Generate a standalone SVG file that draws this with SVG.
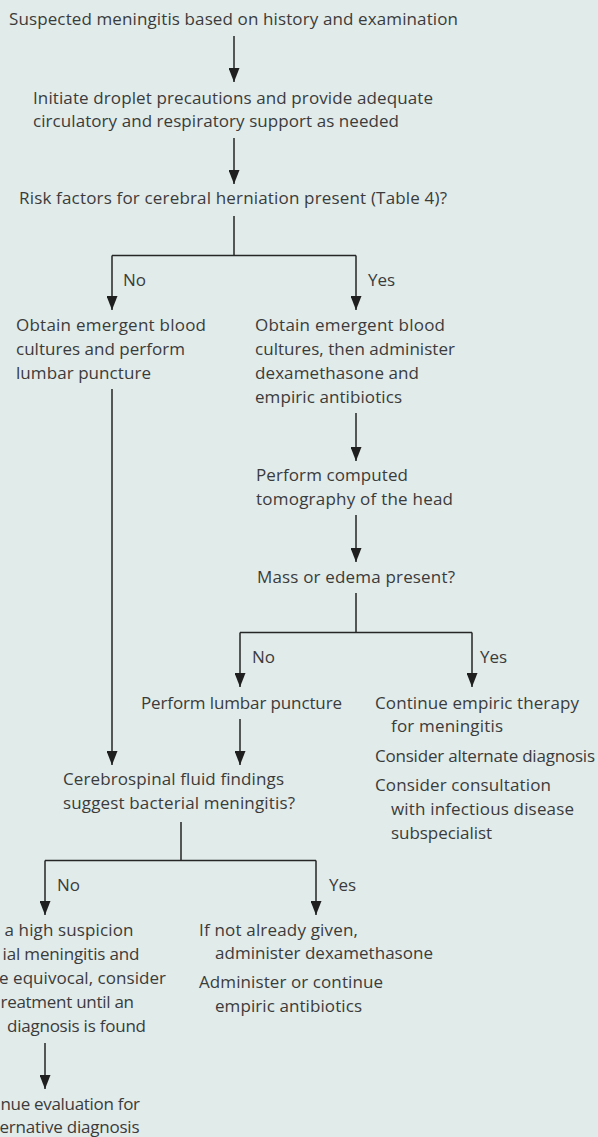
<svg xmlns="http://www.w3.org/2000/svg" width="598" height="1137" viewBox="0 0 598 1137">
  <style>
    text { font-family: "Open Sans", "Noto Sans", "Liberation Sans", sans-serif; font-size: 17px; fill: #3b3b3b; }
    .ln { stroke: #262626; stroke-width: 1.5; fill: none; }
    .ar { stroke: #262626; stroke-width: 1.5; fill: none; marker-end: url(#ah); }
  </style>
  <defs>
    <marker id="ah" viewBox="0 0 14 11" refX="14" refY="5.5" markerWidth="14" markerHeight="11" orient="auto" markerUnits="userSpaceOnUse">
      <path d="M0,0 L14,5.5 L0,11 z" fill="#1f1f1f"/>
    </marker>
  </defs>
  <rect x="0" y="0" width="598" height="1137" fill="#e1ebea"/>

  <g id="connectors">
    <line class="ar" x1="234" y1="36" x2="234" y2="82"/>
    <line class="ar" x1="234" y1="138" x2="234" y2="184"/>
    <path class="ln" d="M234,216 V255.5 M112,255.5 H356"/>
    <line class="ar" x1="112" y1="255.5" x2="112" y2="310"/>
    <line class="ar" x1="356" y1="255.5" x2="356" y2="310"/>
    <line class="ar" x1="112" y1="389" x2="112" y2="765"/>
    <line class="ar" x1="356" y1="413" x2="356" y2="461"/>
    <line class="ar" x1="356" y1="515" x2="356" y2="562"/>
    <path class="ln" d="M356,593 V632.5 M240,632.5 H472"/>
    <line class="ar" x1="240" y1="632.5" x2="240" y2="687"/>
    <line class="ar" x1="472" y1="632.5" x2="472" y2="687"/>
    <line class="ar" x1="240" y1="719" x2="240" y2="765"/>
    <path class="ln" d="M181,822 V860.5 M45,860.5 H316"/>
    <line class="ar" x1="45" y1="860.5" x2="45" y2="915"/>
    <line class="ar" x1="316" y1="860.5" x2="316" y2="915"/>
    <line class="ar" x1="45" y1="1043" x2="45" y2="1089"/>
  </g>

  <g id="labels">
    <text x="123" y="286">No</text>
    <text x="368" y="286">Yes</text>
    <text x="252" y="663">No</text>
    <text x="480" y="663">Yes</text>
    <text x="57" y="891">No</text>
    <text x="329" y="891">Yes</text>
  </g>

  <g id="n1"><text x="9" y="25" textLength="449" lengthAdjust="spacing">Suspected meningitis based on history and examination</text></g>
  <g id="n2">
    <text x="33" y="104" textLength="400" lengthAdjust="spacing">Initiate droplet precautions and provide adequate</text>
    <text x="33" y="127" textLength="366" lengthAdjust="spacing">circulatory and respiratory support as needed</text>
  </g>
  <g id="n3"><text x="19" y="204" textLength="428" lengthAdjust="spacing">Risk factors for cerebral herniation present (Table 4)?</text></g>
  <g id="n4">
    <text x="16" y="331" textLength="190" lengthAdjust="spacing">Obtain emergent blood</text>
    <text x="16" y="355" textLength="169" lengthAdjust="spacing">cultures and perform</text>
    <text x="16" y="379" textLength="135" lengthAdjust="spacing">lumbar puncture</text>
  </g>
  <g id="n5">
    <text x="255" y="331" textLength="190" lengthAdjust="spacing">Obtain emergent blood</text>
    <text x="255" y="355" textLength="200" lengthAdjust="spacing">cultures, then administer</text>
    <text x="255" y="379" textLength="164" lengthAdjust="spacing">dexamethasone and</text>
    <text x="255" y="403" textLength="147" lengthAdjust="spacing">empiric antibiotics</text>
  </g>
  <g id="n6">
    <text x="256" y="481" textLength="152" lengthAdjust="spacing">Perform computed</text>
    <text x="256" y="505" textLength="197" lengthAdjust="spacing">tomography of the head</text>
  </g>
  <g id="n7"><text x="257" y="583" textLength="198" lengthAdjust="spacing">Mass or edema present?</text></g>
  <g id="n8"><text x="141" y="709" textLength="201" lengthAdjust="spacing">Perform lumbar puncture</text></g>
  <g id="n9">
    <text x="375" y="709" textLength="204" lengthAdjust="spacing">Continue empiric therapy</text>
    <text x="391" y="732" textLength="112" lengthAdjust="spacing">for meningitis</text>
    <text x="375" y="762" textLength="220" lengthAdjust="spacing">Consider alternate diagnosis</text>
    <text x="375" y="791" textLength="176" lengthAdjust="spacing">Consider consultation</text>
    <text x="391" y="815" textLength="183" lengthAdjust="spacing">with infectious disease</text>
    <text x="391" y="839" textLength="101" lengthAdjust="spacing">subspecialist</text>
  </g>
  <g id="n10">
    <text x="63" y="785" textLength="221" lengthAdjust="spacing">Cerebrospinal fluid findings</text>
    <text x="63" y="809" textLength="232" lengthAdjust="spacing">suggest bacterial meningitis?</text>
  </g>
  <g id="n11">
    <text x="4.5" y="936" textLength="129" lengthAdjust="spacing">a high suspicion</text>
    <text x="2.5" y="960" textLength="137" lengthAdjust="spacing">ial meningitis and</text>
    <text x="-1" y="984" textLength="167" lengthAdjust="spacing">e equivocal, consider</text>
    <text x="0.5" y="1008" textLength="133.5" lengthAdjust="spacing">reatment until an</text>
    <text x="7" y="1032" textLength="139" lengthAdjust="spacing">diagnosis is found</text>
  </g>
  <g id="n12">
    <text x="199" y="936" textLength="159" lengthAdjust="spacing">If not already given,</text>
    <text x="215" y="959" textLength="218" lengthAdjust="spacing">administer dexamethasone</text>
    <text x="199" y="988" textLength="184" lengthAdjust="spacing">Administer or continue</text>
    <text x="215" y="1012" textLength="147" lengthAdjust="spacing">empiric antibiotics</text>
  </g>
  <g id="n13">
    <text x="0.5" y="1110" textLength="139.5" lengthAdjust="spacing">nue evaluation for</text>
    <text x="-0.5" y="1133" textLength="140" lengthAdjust="spacing">ernative diagnosis</text>
  </g>
</svg>
